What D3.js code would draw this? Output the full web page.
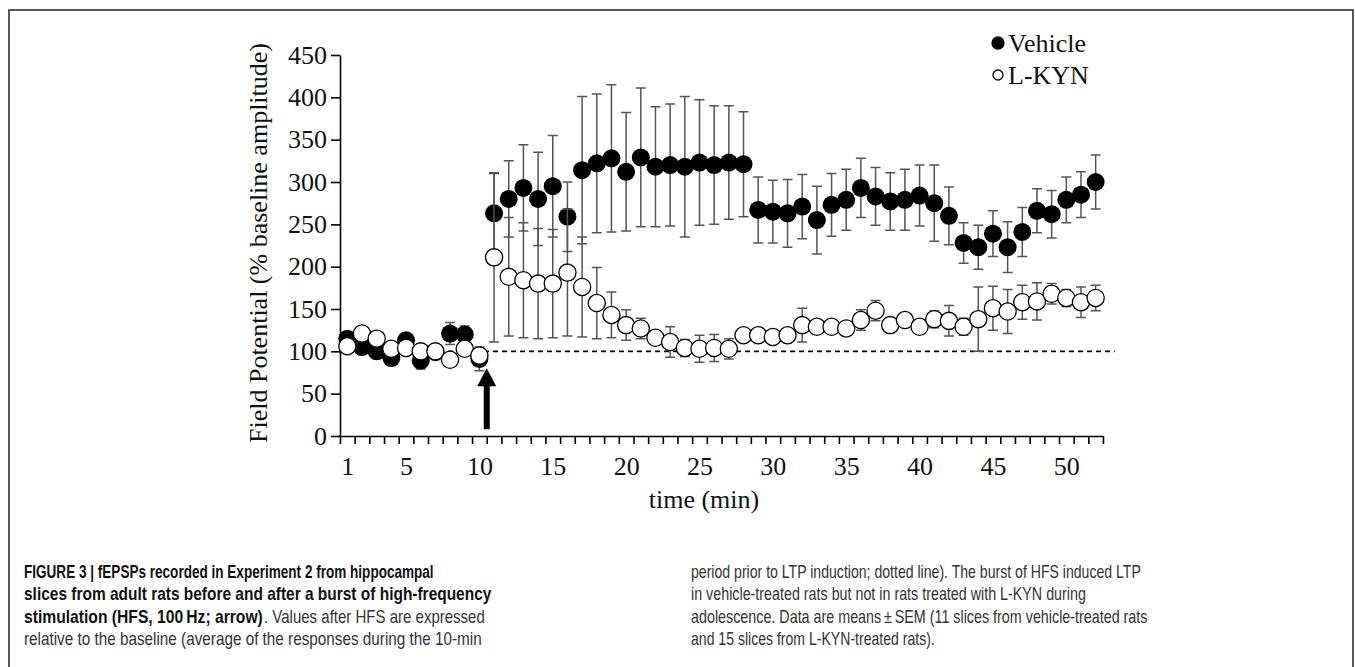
<!DOCTYPE html>
<html>
<head>
<meta charset="utf-8">
<script src="https://d3js.org/d3.v7.min.js"></script>
<style>
  body { margin: 0; background: #fff; }
  .plot text { font-family: "Liberation Serif", "Times New Roman", serif; fill: #111; }
  .caption text { font-family: "Liberation Sans", Arial, sans-serif; font-size: 18px; }
</style>
</head>
<body>
<div id="chart"></div>
<script>
// data (minutes, % baseline amplitude)
var minutes = [1,2,3,4,5,6,7,8,9,10,11,12,13,14,15,16,17,18,19,20,21,22,23,24,25,26,
               27,28,29,30,31,32,33,34,35,36,37,38,39,40,41,42,43,44,45,46,47,48,49,50,51,52];
var vehicleMean = [115,105,100,92,113,89,99,121,120,91,263,280,293,280,295,259,314,322,328,312,
                   329,318,320,318,323,320,323,321,267,265,263,271,255,273,279,293,283,277,279,284,
                   275,260,228,223,239,223,241,266,262,279,285,300];
var vehicleSem = [8,7,8,8,8,10,8,13,10,14,47,45,51,55,60,41,87,82,87,70,
                  82,71,72,83,74,70,67,62,39,37,40,38,40,37,36,35,34,34,36,36,
                  45,34,24,26,27,30,29,26,28,27,27,32];
var lkynMean = [106,121,115,103,104,100,100,90,103,95,211,188,184,180,180,193,176,157,143,131,
                127,116,111,104,103,104,103,119,119,117,119,131,129,129,127,137,148,131,137,129,
                138,136,129,138,151,147,158,159,168,163,158,163];
var lkynSem = [6,6,6,6,6,6,6,6,6,6,100,70,68,65,64,75,59,42,27,18,
               12,8,18,10,16,16,12,6,6,6,6,20,8,7,7,12,12,8,8,8,
               10,18,10,38,26,26,20,22,12,10,18,15];

var yTicks = [0,50,100,150,200,250,300,350,400,450];
var xTickLabels = [1,5,10,15,20,25,30,35,40,45,50];
var baseline = 100;
var baselineEnd = 53.3;
var hfsTime = 10.5;
var arrowSpan = [8, 80];
var seriesNames = ["Vehicle", "L-KYN"];

// caption pieces: text, bold, left x, width (px, measured on the figure), line
var captionParts = [
  ["FIGURE 3 | fEPSPs recorded in Experiment 2 from hippocampal", true, 24, 410, 0],
  ["slices from adult rats before and after a burst of high-frequency", true, 24, 468, 1],
  ["stimulation (HFS, 100\u2009Hz; arrow)", true, 24, 239, 2],
  [". Values after HFS are expressed", false, 264, 221, 2],
  ["relative to the baseline (average of the responses during the 10-min", false, 24, 458, 3],
  ["period prior to LTP induction; dotted line). The burst of HFS induced LTP", false, 691, 450, 0],
  ["in vehicle-treated rats but not in rats treated with L-KYN during", false, 691, 395, 1],
  ["adolescence. Data are means\u2009\u00b1\u2009SEM (11 slices from vehicle-treated rats", false, 691, 457, 2],
  ["and 15 slices from L-KYN-treated rats).", false, 691, 244, 3]
];

var width = 1355, height = 667;

var svg = d3.select("#chart").append("svg")
    .attr("width", width)
    .attr("height", height);

// figure frame
svg.append("rect")
    .attr("x", 9).attr("y", 10)
    .attr("width", 1344).attr("height", 720)
    .attr("fill", "none")
    .attr("stroke", "#222")
    .attr("stroke-width", 1.5);

var plot = svg.append("g").attr("class", "plot");

var x = d3.scaleLinear().domain([0.5, 52.5]).range([340, 1103]);
var y = d3.scaleLinear().domain([0, 450]).range([436, 55]);

// Y axis
var yAxis = plot.append("g")
    .attr("transform", "translate(340,0)")
    .call(d3.axisLeft(y).tickValues(yTicks).tickSize(9).tickPadding(4).tickSizeOuter(0));
yAxis.selectAll("text").style("font-size", "26px");

// X axis: a tick at every minute boundary, labels centred on minutes
var xAxis = plot.append("g")
    .attr("transform", "translate(0,436)")
    .call(d3.axisBottom(x).tickValues(d3.range(0.5, 53, 1)).tickSize(8).tickFormat("").tickSizeOuter(0));
var xLabels = plot.append("g")
    .attr("transform", "translate(0,436)")
    .call(d3.axisBottom(x).tickValues(xTickLabels).tickSize(0).tickPadding(21));
xLabels.select(".domain").remove();
xLabels.selectAll("text").style("font-size", "26px");

plot.selectAll(".domain, .tick line")
    .attr("stroke", "#000")
    .attr("stroke-width", 1.6);

// axis titles
plot.append("text")
    .attr("transform", "translate(258,243) rotate(-90)")
    .attr("text-anchor", "middle")
    .attr("dy", "0.35em")
    .style("font-size", "26px")
    .text("Field Potential (% baseline amplitude)");

plot.append("text")
    .attr("x", 704).attr("y", 508)
    .attr("text-anchor", "middle")
    .style("font-size", "26px")
    .text("time (min)");

// baseline dashed line
plot.append("line")
    .attr("x1", x(0.5)).attr("x2", x(baselineEnd))
    .attr("y1", y(baseline)).attr("y2", y(baseline))
    .attr("stroke", "#000")
    .attr("stroke-width", 1.6)
    .attr("stroke-dasharray", "5,4");

// HFS arrow
var ax = x(hfsTime);
plot.append("rect")
    .attr("x", ax - 3).attr("y", y(arrowSpan[1]) + 16)
    .attr("width", 6).attr("height", y(arrowSpan[0]) - y(arrowSpan[1]) - 16)
    .attr("fill", "#000");
plot.append("path")
    .attr("d", "M" + ax + "," + y(arrowSpan[1]) + "L" + (ax + 9.5) + "," + (y(arrowSpan[1]) + 18) +
               "L" + (ax - 9.5) + "," + (y(arrowSpan[1]) + 18) + "Z")
    .attr("fill", "#000");

var vehicle = minutes.map(function (m, i) { return { t: m, v: vehicleMean[i], e: vehicleSem[i] }; });
var lkyn = minutes.map(function (m, i) { return { t: m, v: lkynMean[i], e: lkynSem[i] }; });

function errorBars(data) {
    var g = plot.append("g")
        .attr("stroke", "#555")
        .attr("stroke-width", 1.5)
        .attr("fill", "none");
    g.selectAll("path")
        .data(data)
        .enter()
        .append("path")
        .attr("d", function (d) {
            var cx = x(d.t), top = y(d.v + d.e), bot = y(d.v - d.e);
            return "M" + cx + "," + top + "V" + bot +
                   "M" + (cx - 5) + "," + top + "H" + (cx + 5) +
                   "M" + (cx - 5) + "," + bot + "H" + (cx + 5);
        });
}

errorBars(vehicle);
plot.append("g")
    .selectAll("circle")
    .data(vehicle)
    .enter()
    .append("circle")
    .attr("cx", function (d) { return x(d.t); })
    .attr("cy", function (d) { return y(d.v); })
    .attr("r", 9)
    .attr("fill", "#000");

errorBars(lkyn);
plot.append("g")
    .selectAll("circle")
    .data(lkyn)
    .enter()
    .append("circle")
    .attr("cx", function (d) { return x(d.t); })
    .attr("cy", function (d) { return y(d.v); })
    .attr("r", 8.6)
    .attr("fill", "#fff")
    .attr("stroke", "#000")
    .attr("stroke-width", 1.3);

// legend
var legend = plot.append("g").attr("transform", "translate(998,43)");
legend.selectAll("circle")
    .data(seriesNames)
    .enter()
    .append("circle")
    .attr("cx", 0)
    .attr("cy", function (d, i) { return i * 32; })
    .attr("r", function (d, i) { return i ? 5 : 6; })
    .attr("fill", function (d, i) { return i ? "#fff" : "#000"; })
    .attr("stroke", "#000")
    .attr("stroke-width", 1.3);
legend.selectAll("text")
    .data(seriesNames)
    .enter()
    .append("text")
    .attr("x", 10)
    .attr("y", function (d, i) { return i * 32; })
    .attr("dy", "0.35em")
    .style("font-size", "26px")
    .text(function (d) { return d; });

// caption (condensed face: each piece squeezed to its measured width)
svg.append("g")
    .attr("class", "caption")
    .selectAll("text")
    .data(captionParts)
    .enter()
    .append("text")
    .style("font-weight", function (d) { return d[1] ? "bold" : "normal"; })
    .style("fill", function (d) { return d[1] ? "#111" : "#333"; })
    .text(function (d) { return d[0]; })
    .each(function (d) {
        var w = this.getComputedTextLength();
        d3.select(this).attr("transform",
            "translate(" + d[2] + "," + (578 + d[4] * 22.3) + ") scale(" + (d[3] / w) + ",1)");
    });
</script>
</body>
</html>
